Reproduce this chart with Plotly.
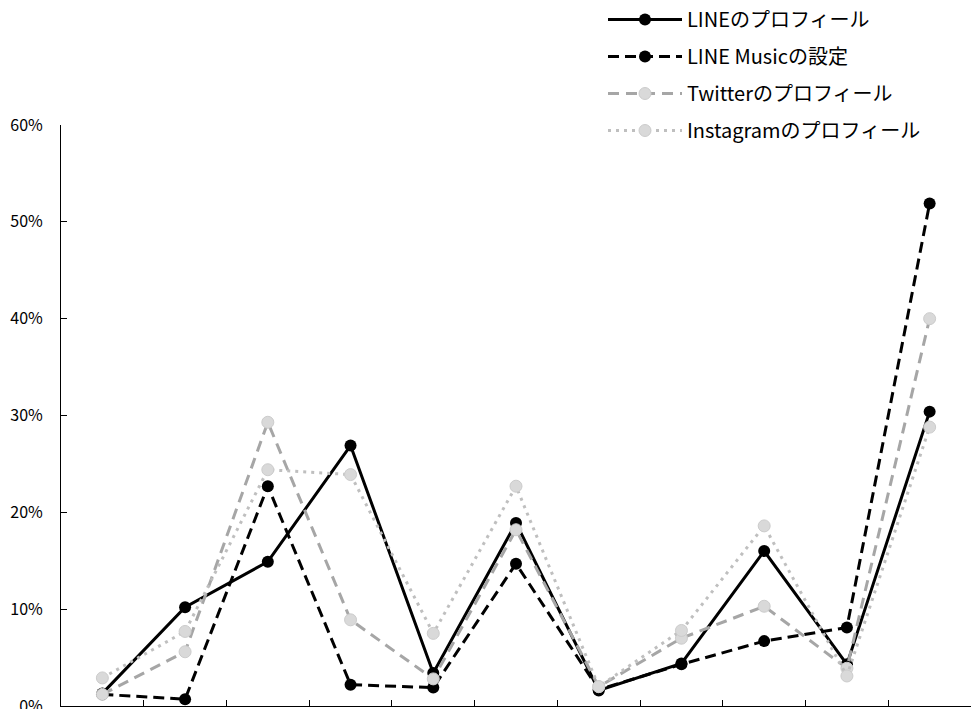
import plotly.graph_objects as go

# Eleven survey items along the x axis (unlabelled)
items = [str(i) for i in range(1, 12)]

series_names = [
    "LINEのプロフィール",
    "LINE Musicの設定",
    "Twitterのプロフィール",
    "Instagramのプロフィール",
]

# Share of respondents (%)
line_profile = [1.3, 10.2, 14.9, 26.9, 3.4, 18.9, 1.6, 4.4, 16.0, 4.3, 30.4]
line_music = [1.2, 0.7, 22.7, 2.2, 1.9, 14.7, 1.7, 4.3, 6.7, 8.1, 51.9]
twitter_profile = [1.2, 5.6, 29.3, 8.9, 2.8, 18.2, 2.0, 7.0, 10.3, 3.9, 40.0]
instagram_profile = [2.9, 7.7, 24.4, 23.9, 7.5, 22.7, 2.0, 7.8, 18.6, 3.1, 28.8]

y_ticks = [0, 10, 20, 30, 40, 50, 60]
y_tick_labels = [f"{v}%" for v in y_ticks]

styles = [
    dict(line=dict(color="#000000", width=3, dash="solid"),
         marker=dict(color="#000000", size=12, line=dict(width=0))),
    dict(line=dict(color="#000000", width=3, dash="11px,6px"),
         marker=dict(color="#000000", size=12, line=dict(width=0))),
    dict(line=dict(color="#a6a6a6", width=3, dash="11px,7px"),
         marker=dict(color="#d9d9d9", size=12, line=dict(color="#cccccc", width=1))),
    dict(line=dict(color="#bfbfbf", width=3, dash="3px,5px"),
         marker=dict(color="#d9d9d9", size=12, line=dict(color="#cccccc", width=1))),
]

fig = go.Figure()
for i, (name, vals) in enumerate(zip(series_names,
                                     [line_profile, line_music, twitter_profile, instagram_profile])):
    fig.add_trace(go.Scatter(
        x=items, y=vals, name=name, mode="lines+markers",
        legendgroup=f"g{i}", cliponaxis=False, **styles[i],
    ))

fig.update_layout(
    width=979, height=709,
    margin=dict(l=61, r=8, t=125, b=3, autoexpand=False),
    paper_bgcolor="white", plot_bgcolor="white",
    font=dict(family="Noto Sans CJK JP", color="#000000"),
    showlegend=True,
    legend=dict(
        xref="container", yref="container",
        x=603 / 979, y=1.0055, xanchor="left", yanchor="top",
        font=dict(size=20, family="Noto Sans CJK JP"),
        itemwidth=74, tracegroupgap=8, bgcolor="rgba(0,0,0,0)",
    ),
    xaxis=dict(
        type="category", tickson="boundaries", ticks="inside", ticklen=6,
        tickcolor="#000000", showticklabels=False, showgrid=False,
        showline=True, linecolor="#000000", linewidth=1, zeroline=False,
        range=[-0.5, 10.5],
    ),
    yaxis=dict(
        range=[0, 60], tickmode="array", tickvals=y_ticks, ticktext=y_tick_labels,
        ticks="inside", ticklen=6, tickcolor="#000000",
        showgrid=False, showline=True, linecolor="#000000", linewidth=1,
        zeroline=False, tickfont=dict(size=16), ticklabelstandoff=14,
        ticklabeloverflow="allow", automargin=False,
    ),
)

fig.write_html("out.html")
